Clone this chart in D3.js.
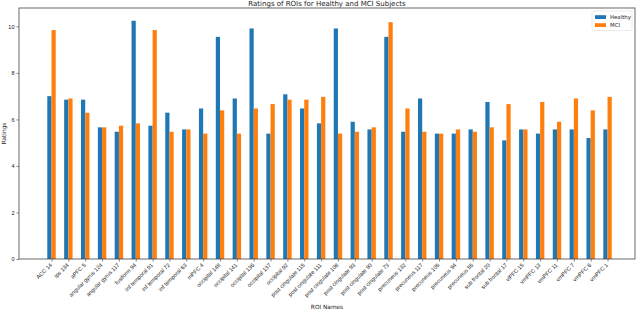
<!DOCTYPE html>
<html>
<head>
<meta charset="utf-8">
<script src="https://cdn.jsdelivr.net/npm/d3@7"></script>
<style>
    body { margin: 0; background: #fff; }
    svg { display: block; font-family: "DejaVu Sans", sans-serif; }
</style>
</head>
<body>
<div id="chart-container"></div>
<script>
// ROI names along the x axis
const roiNames = [
    'ACC 14', 'ips 134', 'aPFC 5', 'angular gyrus 124', 'angular gyrus 117',
    'fusiform 94', 'inf temporal 91', 'inf temporal 72', 'inf temporal 63', 'mPFC 4',
    'occipital 148', 'occipital 141', 'occipital 136', 'occipital 137', 'occipital 92',
    'post cingulate 115', 'post cingulate 111', 'post cingulate 108', 'post cingulate 93',
    'post cingulate 90', 'post cingulate 73', 'precuneus 132', 'precuneus 117',
    'precuneus 105', 'precuneus 94', 'precuneus 55', 'sub frontal 20', 'sub frontal 17',
    'vlPFC 15', 'vmPFC 13', 'vmPFC 11', 'vmPFC 7', 'vmPFC 6', 'vmPFC 1'
];

// ratings
const healthy = [
    7.0, 6.85, 6.85, 5.66, 5.47, 10.24, 5.73, 6.29, 5.57, 6.47,
    9.55, 6.9, 9.91, 5.39, 7.08, 6.47, 5.83, 9.91, 5.9, 5.57,
    9.55, 5.47, 6.9, 5.39, 5.39, 5.57, 6.75, 5.1, 5.57, 5.39,
    5.57, 5.57, 5.2, 5.57
];
const mci = [
    9.84, 6.9, 6.29, 5.66, 5.73, 5.83, 9.84, 5.47, 5.57, 5.39,
    6.39, 5.39, 6.47, 6.66, 6.85, 6.85, 6.97, 5.39, 5.47, 5.66,
    10.18, 6.47, 5.47, 5.39, 5.57, 5.47, 5.66, 6.66, 5.57, 6.75,
    5.9, 6.9, 6.39, 6.97
];

const yTicks = [0, 2, 4, 6, 8, 10];
const seriesNames = ['Healthy', 'MCI'];
const seriesColors = ['#1f77b4', '#ff7f0e'];

const WIDTH = 640, HEIGHT = 311;
const margin = { left: 19, right: 5, top: 8, bottom: 52 };
const BAR_W = 0.25; // in data units, like matplotlib's width

const svg = d3.select('#chart-container').append('svg')
    .attr('width', WIDTH)
    .attr('height', HEIGHT);

const xScale = d3.scaleLinear()
    .domain([-1.93, roiNames.length - 1 + 1.63])
    .range([margin.left, WIDTH - margin.right]);

const yScale = d3.scaleLinear()
    .domain([0, 10.79])
    .range([HEIGHT - margin.bottom, margin.top]);

const data = roiNames.map((name, i) => ({ name, i, values: [healthy[i], mci[i]] }));

// Bars: healthy left of the tick, MCI right of it
const groups = svg.append('g').selectAll('g')
    .data(data)
    .enter()
    .append('g');
groups.selectAll('rect')
    .data(d => d.values.map((v, k) => ({ i: d.i, v, k })))
    .enter()
    .append('rect')
        .attr('x', d => xScale(d.i + (d.k === 0 ? -BAR_W : 0)))
        .attr('width', d => xScale(BAR_W) - xScale(0))
        .attr('y', d => yScale(d.v))
        .attr('height', d => yScale(0) - yScale(d.v))
        .attr('fill', d => seriesColors[d.k]);

// Axes
const xAxis = d3.axisBottom(xScale)
    .tickValues(d3.range(roiNames.length))
    .tickFormat(i => roiNames[i])
    .tickSize(2.5)
    .tickPadding(2);
const xG = svg.append('g')
    .attr('transform', `translate(0, ${yScale(0)})`)
    .call(xAxis);
xG.selectAll('text')
    .style('text-anchor', 'end')
    .attr('font-size', 5.6)
    .attr('fill', '#222')
    .attr('dx', '-0.2em')
    .attr('dy', '0.3em')
    .attr('transform', function () {
        const y = +d3.select(this).attr('y');
        return `rotate(-45, 0, ${y})`;
    });

const yAxis = d3.axisLeft(yScale)
    .tickValues(yTicks)
    .tickSize(2.5)
    .tickPadding(2);
const yG = svg.append('g')
    .attr('transform', `translate(${margin.left}, 0)`)
    .call(yAxis);
yG.selectAll('text')
    .attr('font-size', 5.6)
    .attr('fill', '#222');

svg.selectAll('.domain').remove();
svg.selectAll('.tick line').attr('stroke', '#333').attr('stroke-width', 0.6);

// Frame round the plot area
svg.append('rect')
    .attr('x', margin.left)
    .attr('y', margin.top)
    .attr('width', WIDTH - margin.right - margin.left)
    .attr('height', yScale(0) - margin.top)
    .attr('fill', 'none')
    .attr('stroke', '#444')
    .attr('stroke-width', 0.8);

// Titles
svg.append('text')
    .attr('x', 327)
    .attr('y', 6)
    .attr('font-size', 7)
    .attr('fill', '#222')
    .style('text-anchor', 'middle')
    .text('Ratings of ROIs for Healthy and MCI Subjects');

svg.append('text')
    .attr('x', 327)
    .attr('y', 309)
    .attr('font-size', 5.8)
    .attr('fill', '#222')
    .style('text-anchor', 'middle')
    .text('ROI Names');

svg.append('text')
    .attr('transform', `translate(6, ${(margin.top + yScale(0)) / 2}) rotate(-90)`)
    .attr('font-size', 5.8)
    .attr('fill', '#222')
    .style('text-anchor', 'middle')
    .text('Ratings');

// Legend
const legend = svg.append('g').attr('transform', 'translate(592, 11)');
legend.append('rect')
    .attr('width', 40)
    .attr('height', 19.5)
    .attr('rx', 1.5)
    .attr('fill', 'white')
    .attr('fill-opacity', 0.8)
    .attr('stroke', '#ddd')
    .attr('stroke-width', 0.6);
const rows = legend.selectAll('g.row')
    .data(seriesNames)
    .enter()
    .append('g')
        .attr('class', 'row')
        .attr('transform', (d, i) => `translate(3, ${3 + i * 8})`);
rows.append('rect')
    .attr('width', 11)
    .attr('height', 3.8)
    .attr('y', 1.2)
    .attr('fill', (d, i) => seriesColors[i]);
rows.append('text')
    .attr('x', 15)
    .attr('y', 5)
    .attr('font-size', 5.4)
    .attr('fill', '#222')
    .text(d => d);
</script>
</body>
</html>
